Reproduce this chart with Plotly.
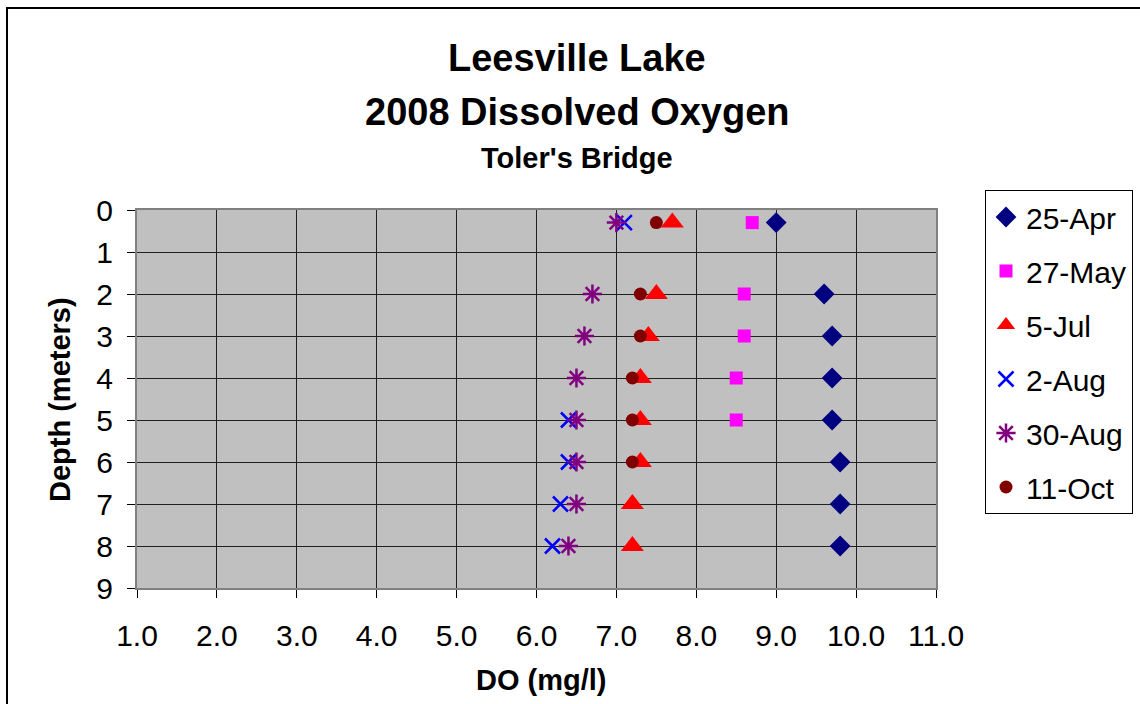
import plotly.graph_objects as go

depth_apr = [0.3, 2, 3, 4, 5, 6, 7, 8]
do_apr = [9.0, 9.6, 9.7, 9.7, 9.7, 9.8, 9.8, 9.8]

depth_may = [0.3, 2, 3, 4, 5]
do_may = [8.7, 8.6, 8.6, 8.5, 8.5]

depth_jul = [0.3, 2, 3, 4, 5, 6, 7, 8]
do_jul = [7.7, 7.5, 7.4, 7.3, 7.3, 7.3, 7.2, 7.2]

depth_aug2 = [0.3, 5, 6, 7, 8]
do_aug2 = [7.1, 6.4, 6.4, 6.3, 6.2]

depth_aug30 = [0.3, 2, 3, 4, 5, 6, 7, 8]
do_aug30 = [7.0, 6.7, 6.6, 6.5, 6.5, 6.5, 6.5, 6.4]

depth_oct = [0.3, 2, 3, 4, 5, 6]
do_oct = [7.5, 7.3, 7.3, 7.2, 7.2, 7.2]

x_ticks = [1, 2, 3, 4, 5, 6, 7, 8, 9, 10, 11]
y_ticks = [0, 1, 2, 3, 4, 5, 6, 7, 8, 9]

FONT = "Liberation Sans, Arial, sans-serif"

series = [
    ("25-Apr", do_apr, depth_apr, "diamond", "#000080", 16, 0),
    ("27-May", do_may, depth_may, "square", "#FF00FF", 13, 0),
    ("5-Jul", do_jul, depth_jul, "triangle-up", "#FF0000", 20, 0),
    ("2-Aug", do_aug2, depth_aug2, "x-thin", "#0000FF", 15, 2.5),
    ("30-Aug", do_aug30, depth_aug30, "asterisk", "#800080", 16, 2.5),
    ("11-Oct", do_oct, depth_oct, "circle", "#800000", 13, 0),
]

fig = go.Figure()
for i, (name, xs, ys, sym, col, sz, lw) in enumerate(series):
    mk = dict(symbol=sym, color=col, size=sz)
    if lw:
        mk["line"] = dict(color=col, width=lw)
    else:
        mk["line"] = dict(width=0)
    fig.add_trace(go.Scatter(x=xs, y=ys, mode="markers", name=name,
                             legendgroup=f"g{i}", marker=mk))

fig.update_layout(
    width=1140, height=704,
    margin=dict(l=137, r=204, t=210, b=116, autoexpand=False),
    paper_bgcolor="white",
    plot_bgcolor="#C0C0C0",
    font=dict(family=FONT, color="black", size=30),
    showlegend=True,
    legend=dict(
        x=(985 - 137) / 799, y=(588 - 190) / 378, xanchor="left", yanchor="top",
        bordercolor="black", borderwidth=1, bgcolor="white",
        font=dict(size=30, family=FONT), tracegroupgap=12,
        itemwidth=30,
    ),
    xaxis=dict(
        range=[1, 11], tickvals=x_ticks, tickformat=".1f",
        showgrid=True, gridcolor="#202020", gridwidth=1,
        ticks="outside", ticklen=8, tickcolor="black",
        showline=True, linecolor="#808080", linewidth=2, mirror=True,
        zeroline=False, tickfont=dict(size=30), ticklabelstandoff=12,
    ),
    yaxis=dict(
        range=[9, 0], tickvals=y_ticks,
        showgrid=True, gridcolor="#202020", gridwidth=1,
        ticks="outside", ticklen=8, tickcolor="black",
        showline=True, linecolor="#808080", linewidth=2, mirror=True,
        zeroline=False, tickfont=dict(size=30), ticklabelstandoff=8,
    ),
    annotations=[
        dict(text="<b>Leesville Lake</b>", xref="paper", yref="paper",
             x=0.5507, y=(588 - 58) / 378, xanchor="center", yanchor="middle",
             showarrow=False, font=dict(size=38)),
        dict(text="<b>2008 Dissolved Oxygen</b>", xref="paper", yref="paper",
             x=0.5507, y=(588 - 112) / 378, xanchor="center", yanchor="middle",
             showarrow=False, font=dict(size=38)),
        dict(text="<b>Toler's Bridge</b>", xref="paper", yref="paper",
             x=0.5507, y=(588 - 158) / 378, xanchor="center", yanchor="middle",
             showarrow=False, font=dict(size=29)),
        dict(text="<b>DO (mg/l)</b>", xref="paper", yref="paper",
             x=(541 - 137) / 799, y=(588 - 680) / 378, xanchor="center", yanchor="middle",
             showarrow=False, font=dict(size=29)),
        dict(text="<b>Depth (meters)</b>", xref="paper", yref="paper",
             x=(60 - 137) / 799, y=(588 - 400) / 378, xanchor="center", yanchor="middle",
             textangle=-90, showarrow=False, font=dict(size=29)),
    ],
    shapes=[
        dict(type="rect", xref="paper", yref="paper",
             x0=(7 - 137) / 799, x1=(1160 - 137) / 799,
             y0=(588 - 730) / 378, y1=(588 - 8) / 378,
             line=dict(color="black", width=2), fillcolor="rgba(0,0,0,0)",
             layer="below"),
    ],
)

fig.write_html("out.html")
